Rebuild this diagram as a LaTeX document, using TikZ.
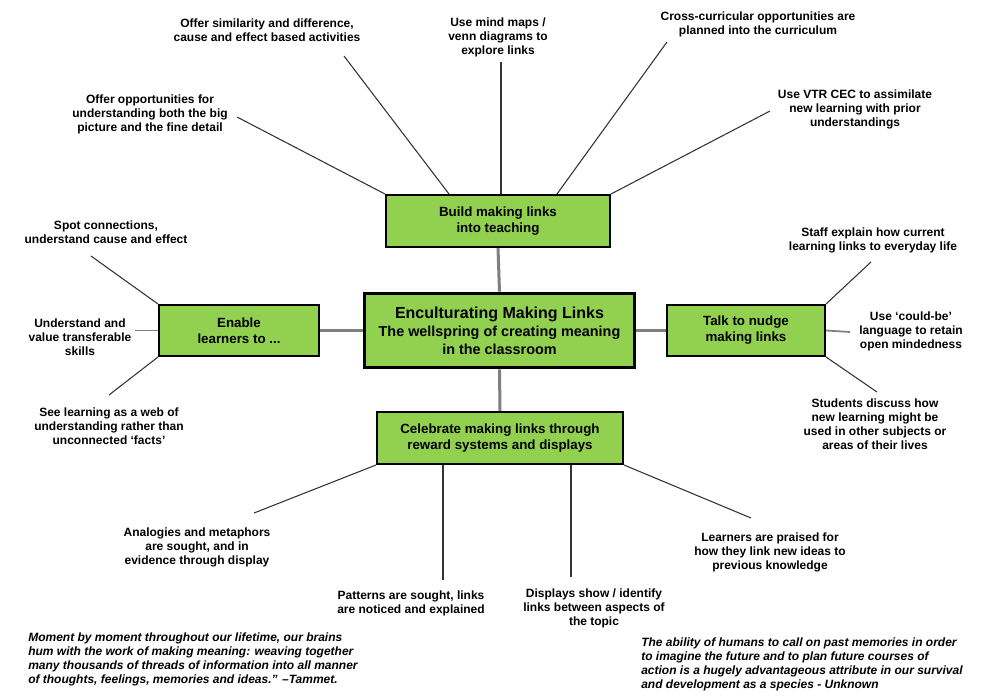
\documentclass[tikz,border=0pt]{standalone}
\usepackage{fontspec}
\setmainfont{Liberation Sans}
\definecolor{boxgreen}{HTML}{92D050}
\definecolor{conngray}{HTML}{7F7F7F}
\definecolor{thingray}{HTML}{333333}
\begin{document}
\begin{tikzpicture}[x=0.75pt,y=-0.75pt,
  box/.style={draw=black,line width=1.5pt,fill=boxgreen,align=center,inner sep=0pt,
    font=\fontsize{10}{12}\selectfont\bfseries},
  label/.style={align=center,inner sep=0pt,font=\fontsize{9}{10.5}\selectfont\bfseries},
  quote/.style={align=left,inner sep=0pt,anchor=west,font=\fontsize{9}{10.5}\selectfont\bfseries\itshape},
  mainconn/.style={draw=conngray,line width=2.25pt},
  thin/.style={draw=thingray,line width=0.8pt},
  stub/.style={draw=conngray,line width=1.3pt}]
\useasboundingbox[fill=white] (0,0) rectangle (983,697);

% boxes
\node[box,minimum width=168pt,minimum height=39pt] (b) at (498,221) {Build making links\\into teaching};
\node[box,line width=2.25pt,minimum width=203pt,minimum height=56pt,
  font=\fontsize{12}{13.5}\selectfont\bfseries] (c) at (499.5,330.5)
  {Enculturating Making Links\\{\fontsize{10.8}{13.5}\selectfont The wellspring of creating meaning}\\{\fontsize{10.8}{13.5}\selectfont in the classroom}};
\node[box,minimum width=120pt,minimum height=38.25pt] (en) at (239,330.5) {Enable\\learners to ...};
\node[box,minimum width=118.5pt,minimum height=38.25pt] (tk) at (746,330.5) {Talk to nudge\\making links};
\node[box,minimum width=184.5pt,minimum height=39pt] (cel) at (500,438) {Celebrate making links through\\reward systems  and displays};

% labels
\node[label] (l1) at (267,30) {Offer similarity and difference,\\cause and effect based activities};
\node[label] (l2) at (498,37) {Use mind maps /\\venn diagrams to\\explore links};
\node[label] (l3) at (758,24) {Cross-curricular opportunities are\\planned into the curriculum};
\node[label] (l4) at (855,109) {Use VTR CEC to assimilate\\new learning with prior\\understandings};
\node[label] (l5) at (150,114) {Offer opportunities for\\understanding both the big\\picture and the fine detail};
\node[label] (l6) at (106,232) {Spot connections,\\understand cause and effect};
\node[label] (l7) at (873,240) {Staff explain how current\\learning links to everyday life};
\node[label] (l8) at (80,337) {Understand and\\value transferable\\skills};
\node[label] (l9) at (911,331.5) {Use ‘could-be’\\language to retain\\open mindedness};
\node[label] (l10) at (109,426) {See learning as a web of\\understanding rather than\\unconnected ‘facts’};
\node[label] (l11) at (875,424.5) {Students discuss how\\new learning might be\\used in other subjects or\\areas of their lives};
\node[label] (l12) at (197,547) {Analogies and metaphors\\are sought, and in\\evidence through display};
\node[label] (l13) at (411,603) {Patterns are sought, links\\are noticed and explained};
\node[label] (l14) at (594,608) {Displays show / identify\\links between aspects of\\the topic};
\node[label] (l15) at (770,552) {Learners are praised for\\how they link new ideas to\\previous knowledge};

\node[quote] (q1) at (28,659) {Moment by moment throughout our lifetime, our brains\\hum with the work of making meaning: weaving together\\many thousands of threads of information into all manner\\of thoughts, feelings, memories and ideas.” –Tammet.};
\node[quote] (q2) at (641,664) {The ability of humans to call on past memories in order\\to imagine the future and to plan future courses of\\action is a hugely advantageous attribute in our survival\\and development as a species - Unknown};

% main connectors
\draw[mainconn] (b.south) -- (c.north);
\draw[mainconn] (c.south) -- (cel.north);
\draw[mainconn] (c.west) -- (en.east);
\draw[mainconn] (c.east) -- (tk.west);

% free ends and start points
\coordinate (t1) at (237,117);
\coordinate (s2) at (449,201.5); \coordinate (t2) at (344,56);
\coordinate (s3) at (501,201.5); \coordinate (t3) at (501,62);
\coordinate (s4) at (557,201.5); \coordinate (t4) at (667,42);
\coordinate (t5) at (770,111);
\coordinate (e1) at (91,256);
\coordinate (e2) at (135,330.5);
\coordinate (e3) at (109,395);
\coordinate (k1) at (871,262);
\coordinate (k2) at (850,332);
\coordinate (k3) at (877,392);
\coordinate (c1) at (254,513);
\coordinate (u2) at (443,457); \coordinate (c2) at (443,580);
\coordinate (u3) at (571,457); \coordinate (c3) at (571,577);
\coordinate (c4) at (751,518);

\begin{scope}
\draw[thin] (b.north west) -- (t1);
\draw[thin] (s2|-b.north) -- (t2);
\draw[thin] (s3|-b.north) -- (t3);
\draw[thin] (s4|-b.north) -- (t4);
\draw[thin] (b.north east) -- (t5);
\draw[thin] (en.north west) -- (e1);
\draw[stub] (en.west) -- (e2);
\draw[thin] (en.south west) -- (e3);
\draw[thin] (tk.north east) -- (k1);
\draw[stub] (tk.east) -- (k2);
\draw[thin] (tk.south east) -- (k3);
\draw[thin] (cel.south west) -- (c1);
\draw[thin] (u2|-cel.south) -- (c2);
\draw[thin] (u3|-cel.south) -- (c3);
\draw[thin] (cel.south east) -- (c4);
\end{scope}
\end{tikzpicture}
\end{document}
